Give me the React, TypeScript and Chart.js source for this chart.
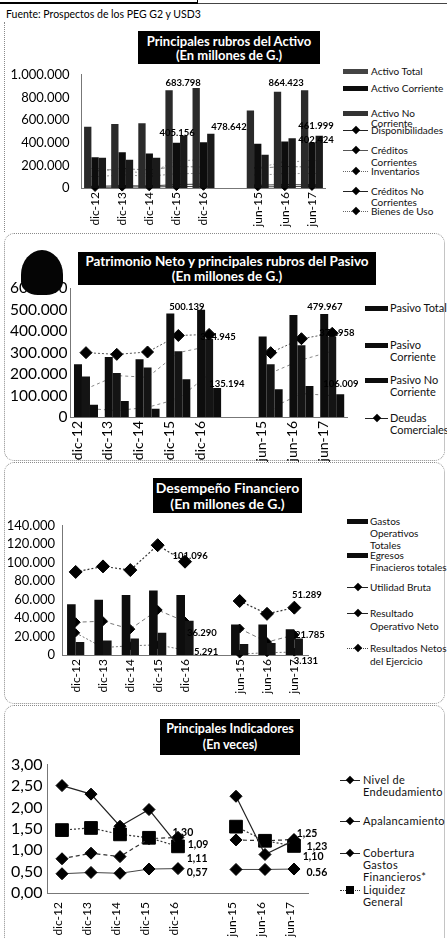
import React, { useEffect, useRef } from 'react';
import { Chart, registerables } from 'chart.js';

Chart.register(...registerables);

const FONT = 'Lato, "Open Sans", sans-serif';

// ---------- shared categories ----------
const categories = ['dic-12', 'dic-13', 'dic-14', 'dic-15', 'dic-16', '', 'jun-15', 'jun-16', 'jun-17'];

// ---------- Chart 1: Principales rubros del Activo ----------
const activoTotal = [540000, 565000, 572000, 864000, 883798, null, 683798, 850000, 864423];
const activoCorriente = [272000, 315000, 305000, 400000, 405156, null, 390000, 410000, 402424];
const activoNoCorriente = [268000, 250000, 267000, 464000, 478642, null, 294000, 440000, 461999];
const disponibilidades = [15000, 20000, 18000, 30000, 35000, null, 25000, 30000, 28000];
const creditosCorrientes = [150000, 170000, 160000, 190000, 185000, null, 175000, 190000, 185000];
const inventarios = [100000, 115000, 105000, 125000, 130000, null, 115000, 125000, 130000];
const creditosNoCorrientes = [5000, 8000, 10000, 12000, 15000, null, 10000, 12000, 14000];
const bienesDeUso = [170000, 150000, 130000, 240000, 250000, null, 180000, 230000, 240000];
const activoLabels = [
  { text: '683.798', at: 3.25, value: 927000 },
  { text: '864.423', at: 7.05, value: 927000 },
  { text: '478.642', at: 4.94, value: 537000 },
  { text: '405.156', at: 3.03, value: 488000 },
  { text: '461.999', at: 8.15, value: 545000 },
  { text: '402.424', at: 8.15, value: 423000 },
];

// ---------- Chart 2: Patrimonio Neto y principales rubros del Pasivo ----------
const pasivoTotal = [246000, 280000, 269000, 483000, 500139, null, 375000, 475000, 479967];
const pasivoCorriente = [189000, 205000, 231000, 307000, 364945, null, 246000, 335000, 373958];
const pasivoNoCorriente = [57000, 75000, 38000, 176000, 135194, null, 129000, 145000, 106009];
const deudasComerciales = [300000, 292000, 303000, 380000, 385000, null, 300000, 365000, 390000];
const pasivoSerieA = [131000, 193000, 185000, 300000, 330000, null, 205000, 266000, 307000];
const pasivoSerieB = [40000, 30000, 45000, 85000, 200000, null, 40000, 109000, 100000];
const pasivoLabels = [
  { text: '500.139', at: 3.28, value: 514000 },
  { text: '364.945', at: 4.29, value: 372000 },
  { text: '135.194', at: 4.58, value: 156000 },
  { text: '479.967', at: 7.76, value: 514000 },
  { text: '373.958', at: 8.15, value: 390000 },
  { text: '106.009', at: 8.28, value: 156000 },
];

// ---------- Chart 3: Desempeño Financiero ----------
const gastosOperativos = [55000, 60000, 65000, 70000, 65000, null, 33000, 33000, 28000];
const egresosFinancieros = [14000, 15700, 18000, 24000, 37000, null, 12000, 13000, 18000];
const utilidadBruta = [90000, 96000, 92000, 119000, 101096, null, 58500, 44600, 51289];
const resultadoOperativo = [35500, 36600, 28000, 48800, 36290, null, 28600, 14000, 21785];
const resultadosNetos = [24000, 8000, 10000, 11000, 5291, null, 1000, 2500, 3131];
const desempenoLabels = [
  { text: '101.096', at: 4.19, value: 107600 },
  { text: '51.289', at: 8.46, value: 64800 },
  { text: '36.290', at: 4.62, value: 24000 },
  { text: '5.291', at: 4.77, value: 3100 },
  { text: '21.785', at: 8.57, value: 21900 },
  { text: '3.131', at: 8.42, value: -6300 },
];

// ---------- Chart 4: Principales Indicadores ----------
const nivelEndeudamiento = [0.45, 0.48, 0.46, 0.56, 0.57, null, 0.55, 0.55, 0.56];
const apalancamiento = [0.8, 0.93, 0.85, 1.27, 1.3, null, 1.24, 1.22, 1.25];
const coberturaGastos = [2.51, 2.31, 1.56, 1.95, 1.11, null, 2.26, 0.9, 1.23];
const liquidezGeneral = [1.47, 1.52, 1.37, 1.29, 1.09, null, 1.55, 1.22, 1.1];
const indicadoresLabels = [
  { text: '1,30', at: 4.17, value: 1.42 },
  { text: '1,09', at: 4.69, value: 1.13 },
  { text: '1,11', at: 4.66, value: 0.81 },
  { text: '0,57', at: 4.66, value: 0.47 },
  { text: '1,25', at: 8.45, value: 1.38 },
  { text: '1,23', at: 8.79, value: 1.08 },
  { text: '1,10', at: 8.66, value: 0.84 },
  { text: '0.56', at: 8.79, value: 0.47 },
];

// ---------- helpers ----------
const fmtMiles = (v: number) => String(Math.round(v)).replace(/\B(?=(\d{3})+(?!\d))/g, '.');
const fmtVeces = (v: number) => v.toFixed(2).replace('.', ',');

const annotPlugin = {
  id: 'annots',
  afterDatasetsDraw(chart: any, _args: any, opts: any) {
    const items = (opts && opts.items) || [];
    const xs = chart.scales.x;
    const ys = chart.scales.y;
    const x0 = xs.getPixelForValue(0);
    const x1 = xs.getPixelForValue(1);
    const ctx = chart.ctx;
    ctx.save();
    ctx.font = opts.font;
    ctx.fillStyle = '#000';
    ctx.textAlign = 'center';
    ctx.textBaseline = 'middle';
    for (const it of items) {
      ctx.fillText(it.text, x0 + (x1 - x0) * it.at, ys.getPixelForValue(it.value));
    }
    ctx.restore();
  },
};

function bar(label: string, data: any[], color: string, cat: number) {
  return {
    type: 'bar', label, data, backgroundColor: color, borderWidth: 0,
    barPercentage: 1, categoryPercentage: cat, order: 1,
  };
}

function line(label: string, data: any[], o: any) {
  return {
    type: 'line', label, data,
    borderColor: o.color, borderWidth: o.w ?? 1, borderDash: o.dash ?? [],
    pointStyle: o.ps ?? 'rectRot', pointRadius: o.r, pointHoverRadius: o.r,
    pointBackgroundColor: o.pc ?? '#000', pointBorderColor: o.pc ?? '#000', pointBorderWidth: 1,
    order: o.order ?? 2, clip: false, fill: false, tension: 0, spanGaps: false,
  };
}

function mkOptions(p: any) {
  const axisBorder = { display: true, color: '#777', dash: [1, 1], width: 1 };
  return {
    responsive: false,
    animation: false,
    devicePixelRatio: 1,
    layout: { padding: p.padding },
    plugins: {
      legend: { display: false },
      tooltip: { enabled: false },
      annots: { items: p.annots, font: p.annotFont },
    },
    scales: {
      x: {
        offset: true,
        grid: { display: false, drawTicks: false },
        border: axisBorder,
        ticks: {
          autoSkip: false, maxRotation: 90, minRotation: 90,
          font: { family: FONT, size: p.xFont }, color: '#000',
          padding: p.xPad, labelOffset: p.xOffset ?? 0,
        },
        afterFit: (s: any) => { s.height = p.xHeight; },
      },
      y: {
        min: 0, max: p.yMax,
        grid: { display: false, drawTicks: false },
        border: axisBorder,
        ticks: {
          autoSkip: false,
          stepSize: p.yStep, callback: (v: any) => p.yFmt(Number(v)),
          font: { family: FONT, size: p.yFont }, color: '#000', padding: p.yPad,
        },
        afterFit: (s: any) => { s.width = p.yWidth; },
      },
    },
  };
}

const build1 = () => ({
  type: 'bar',
  data: {
    labels: categories,
    datasets: [
      bar('Activo Total', activoTotal, '#2a2a2a', 0.81),
      bar('Activo Corriente', activoCorriente, '#0d0d0d', 0.81),
      bar('Activo No Corriente', activoNoCorriente, '#1a1a1a', 0.81),
      line('Disponibilidades', disponibilidades, { color: '#444', r: 3.5 }),
      line('Créditos Corrientes', creditosCorrientes, { color: '#888', dash: [4, 2], r: 3 }),
      line('Inventarios', inventarios, { color: '#999', dash: [2, 2], r: 3 }),
      line('Créditos No Corrientes', creditosNoCorrientes, { color: '#444', r: 4 }),
      line('Bienes de Uso', bienesDeUso, { color: '#999', dash: [2, 2], r: 3 }),
    ],
  },
  options: mkOptions({
    padding: { top: 10, right: 14.5, bottom: 7, left: 0 },
    yMax: 1000000, yStep: 200000, yFmt: fmtMiles, yFont: 13, yPad: 12, yWidth: 81.5,
    xFont: 12, xPad: 4, xHeight: 40, xOffset: 0,
    annots: activoLabels, annotFont: `bold 9.5px ${FONT}`,
  }),
  plugins: [annotPlugin],
});

const build2 = () => ({
  type: 'bar',
  data: {
    labels: categories,
    datasets: [
      bar('Pasivo Total', pasivoTotal, '#0d0d0d', 0.78),
      bar('Pasivo Corriente', pasivoCorriente, '#141414', 0.78),
      bar('Pasivo No Corriente', pasivoNoCorriente, '#0d0d0d', 0.78),
      line('Deudas Comerciales', deudasComerciales, { color: '#555', dash: [2, 2], r: 6 }),
      line('', pasivoSerieA, { color: '#888', dash: [3, 3], r: 0 }),
      line('', pasivoSerieB, { color: '#888', dash: [3, 3], r: 3 }),
    ],
  },
  options: mkOptions({
    padding: { top: 10, right: 14.4, bottom: 2, left: 0 },
    yMax: 600000, yStep: 100000, yFmt: fmtMiles, yFont: 15.5, yPad: 3, yWidth: 70.6,
    xFont: 14, xPad: 4, xHeight: 45, xOffset: -9,
    annots: pasivoLabels, annotFont: `bold 9.5px ${FONT}`,
  }),
  plugins: [annotPlugin],
});

const build3 = () => ({
  type: 'bar',
  data: {
    labels: categories,
    datasets: [
      bar('Gastos Operativos Totales', gastosOperativos, '#0d0d0d', 0.63),
      bar('Egresos Finacieros totales', egresosFinancieros, '#141414', 0.63),
      line('Utilidad Bruta', utilidadBruta, { color: '#333', dash: [2, 2], w: 1.2, r: 6.5 }),
      line('Resultado Operativo Neto', resultadoOperativo, { color: '#777', dash: [4, 3], r: 4.5 }),
      line('Resultados Netos del Ejercicio', resultadosNetos, { color: '#777', dash: [2, 2], r: 4 }),
    ],
  },
  options: mkOptions({
    padding: { top: 10, right: 27, bottom: 5, left: 0 },
    yMax: 140000, yStep: 20000, yFmt: fmtMiles, yFont: 13, yPad: 7, yWidth: 62,
    xFont: 12, xPad: 4, xHeight: 40, xOffset: 0,
    annots: desempenoLabels, annotFont: `bold 9.5px ${FONT}`,
  }),
  plugins: [annotPlugin],
});

const build4 = () => ({
  type: 'line',
  data: {
    labels: categories,
    datasets: [
      line('Nivel de Endeudamiento', nivelEndeudamiento, { color: '#444', r: 6, order: 0 }),
      line('Apalancamiento', apalancamiento, { color: '#333', dash: [4, 3], w: 1.2, r: 6, order: 0 }),
      line('Cobertura Gastos Financieros*', coberturaGastos, { color: '#222', w: 1.2, r: 6, order: 0 }),
      line('Liquidez General', liquidezGeneral, { color: '#333', dash: [2, 2], w: 1.2, ps: 'rect', r: 9, order: 0 }),
    ],
  },
  options: mkOptions({
    padding: { top: 10, right: 26.5, bottom: 0, left: 0 },
    yMax: 3, yStep: 0.5, yFmt: fmtVeces, yFont: 16, yPad: 5, yWidth: 47.5,
    xFont: 12, xPad: 9, xHeight: 45, xOffset: -4,
    annots: indicadoresLabels, annotFont: `bold 10.5px ${FONT}`,
  }),
  plugins: [annotPlugin],
});

// ---------- legends ----------
const legend1 = [
  { lines: ['Activo Total'], y: 71, sw: { kind: 'box', color: '#444' } },
  { lines: ['Activo Corriente'], y: 88, sw: { kind: 'box', color: '#0d0d0d' } },
  { lines: ['Activo No', 'Corriente'], y: 113, lh: 10, sw: { kind: 'box', color: '#333' } },
  { lines: ['Disponibilidades'], y: 130, sw: { kind: 'line', color: '#222', dash: 'solid', marker: 'diamond' } },
  { lines: ['Créditos', 'Corrientes'], y: 150, lh: 12, sw: { kind: 'line', color: '#555', dash: 'solid', marker: 'diamond' } },
  { lines: ['Inventarios'], y: 171, sw: { kind: 'line', color: '#666', dash: 'dotted', marker: 'diamond' } },
  { lines: ['Créditos No', 'Corrientes'], y: 191, lh: 11, sw: { kind: 'line', color: '#222', dash: 'solid', marker: 'diamond' } },
  { lines: ['Bienes de Uso'], y: 211, sw: { kind: 'line', color: '#666', dash: 'dotted', marker: 'diamond' } },
];
const legend2 = [
  { lines: ['Pasivo Total'], y: 308, sw: { kind: 'box', color: '#0d0d0d' } },
  { lines: ['Pasivo', 'Corriente'], y: 345, sw: { kind: 'box', color: '#0d0d0d' } },
  { lines: ['Pasivo No', 'Corriente'], y: 380, sw: { kind: 'box', color: '#0d0d0d' } },
  { lines: ['Deudas', 'Comerciales'], y: 418, sw: { kind: 'line', color: '#222', dash: 'solid', marker: 'diamond' } },
];
const legend3 = [
  { lines: ['Gastos', 'Operativos', 'Totales'], y: 521, sw: { kind: 'box', color: '#0d0d0d' } },
  { lines: ['Egresos', 'Finacieros totales'], y: 555, sw: { kind: 'box', color: '#0d0d0d' } },
  { lines: ['Utilidad Bruta'], y: 587, sw: { kind: 'line', color: '#222', dash: 'solid', marker: 'diamond' } },
  { lines: ['Resultado', 'Operativo Neto'], y: 613, lh: 13, sw: { kind: 'line', color: '#222', dash: 'solid', marker: 'diamond' } },
  { lines: ['Resultados Netos', 'del Ejercicio'], y: 648, lh: 13, sw: { kind: 'line', color: '#444', dash: 'dotted', marker: 'diamond' } },
];
const legend4 = [
  { lines: ['Nivel de', 'Endeudamiento'], y: 780, sw: { kind: 'line', color: '#222', dash: 'solid', marker: 'diamond' } },
  { lines: ['Apalancamiento'], y: 821, sw: { kind: 'line', color: '#222', dash: 'solid', marker: 'diamond' } },
  { lines: ['Cobertura', 'Gastos', 'Financieros*'], y: 853, sw: { kind: 'line', color: '#222', dash: 'solid', marker: 'diamond' } },
  { lines: ['Liquidez', 'General'], y: 890, sw: { kind: 'line', color: '#333', dash: 'dotted', marker: 'square' } },
];

function Swatch({ x, y, w, sw }: any) {
  if (sw.kind === 'box') {
    return <div style={{ position: 'absolute', left: x, top: y - 2.5, width: w, height: 5, background: sw.color }} />;
  }
  const m = sw.marker === 'square' ? 8 : 6;
  return (
    <>
      <div style={{ position: 'absolute', left: x, top: y - 0.5, width: w, height: 0, borderTop: `1px ${sw.dash} ${sw.color}` }} />
      <div
        style={{
          position: 'absolute', left: x + w / 2 - m / 2, top: y - m / 2, width: m, height: m,
          background: '#000', transform: sw.marker === 'square' ? 'none' : 'rotate(45deg)',
        }}
      />
    </>
  );
}

function Legend({ items, swX, swW, textX, fontSize, lineH, ls }: any) {
  return (
    <>
      {items.map((it: any, i: number) => {
        const lh = it.lh ?? lineH;
        return (
          <React.Fragment key={i}>
            <Swatch x={swX} y={it.y} w={swW} sw={it.sw} />
            <div
              style={{
                position: 'absolute', left: textX, top: it.y - lh / 2, fontSize, lineHeight: `${lh}px`,
                whiteSpace: 'nowrap', color: '#111', letterSpacing: ls ?? 0,
              }}
            >
              {it.lines.map((l: string, j: number) => <div key={j}>{l}</div>)}
            </div>
          </React.Fragment>
        );
      })}
    </>
  );
}

function TitleBox({ left, top, width, height, size, lh, lines }: any) {
  return (
    <div
      style={{
        position: 'absolute', left, top, width, height, background: '#000', color: '#fff',
        fontWeight: 'bold', fontSize: size, lineHeight: `${lh}px`, textAlign: 'center',
        display: 'flex', flexDirection: 'column', justifyContent: 'center', whiteSpace: 'nowrap', zIndex: 2,
      }}
    >
      {lines.map((l: string, i: number) => <div key={i}>{l}</div>)}
    </div>
  );
}

function ChartCanvas({ left, top, width, height, build }: any) {
  const ref = useRef<HTMLCanvasElement>(null);
  useEffect(() => {
    const chart = new Chart(ref.current as HTMLCanvasElement, build());
    return () => chart.destroy();
  }, []);
  return <canvas ref={ref} width={width} height={height} style={{ position: 'absolute', left, top, width, height }} />;
}

const boxStyle = (top: number, height: number): any => ({
  position: 'absolute', left: 4, top, width: 441, height,
  border: '1px dotted #8a8a8a', borderRadius: 10, boxSizing: 'border-box',
});

export default function App() {
  return (
    <div
      style={{
        position: 'absolute', left: 0, top: 0, width: 447, height: 938, overflow: 'hidden',
        background: '#fff', fontFamily: FONT, color: '#000',
      }}
    >
      {/* top rule from the page */}
      <div style={{ position: 'absolute', left: 0, top: 2, width: 198, height: 2, background: '#000' }} />
      <div style={{ position: 'absolute', left: 197, top: 0, width: 1, height: 4, background: '#000' }} />
      <div style={{ position: 'absolute', left: 198, top: 3, width: 249, height: 1, background: '#444' }} />
      <div style={{ position: 'absolute', left: 6, top: 8, fontSize: 10.5, whiteSpace: 'nowrap' }}>
        Fuente: Prospectos de los PEG G2 y USD3
      </div>

      {/* chart frames */}
      <div style={{ position: 'absolute', left: 4, top: 22, width: 0, height: 210, borderLeft: '1px dotted #8a8a8a' }} />
      <div style={boxStyle(233, 228)} />
      <div style={boxStyle(462, 242)} />
      <div style={boxStyle(705, 260)} />

      {/* Chart 1 */}
      <ChartCanvas left={0} top={55} width={340} height={180} build={build1} />
      <TitleBox left={138} top={31} width={182} height={33} size={13} lh={14}
        lines={['Principales rubros del Activo', '(En millones de G.)']} />
      <Legend items={legend1} swX={343} swW={25} textX={371} fontSize={10} lineH={11} />

      {/* Chart 2 */}
      <ChartCanvas left={0} top={276} width={362} height={188} build={build2} />
      <TitleBox left={78} top={252} width={298} height={33} size={13.5} lh={15}
        lines={['Patrimonio Neto y principales rubros del Pasivo', '(En millones de G.)']} />
      <div style={{
        position: 'absolute', left: 21, top: 250, width: 42, height: 45, background: '#050505',
        borderRadius: '50% 50% 40% 40% / 55% 55% 30% 30%', zIndex: 3,
      }} />
      <Legend items={legend2} swX={365} swW={23} textX={390} fontSize={11} lineH={11.5} />

      {/* Chart 3 */}
      <ChartCanvas left={0} top={511} width={335} height={189} build={build3} />
      <TitleBox left={153} top={478} width={149} height={35} size={14} lh={16}
        lines={['Desempeño Financiero', '(En millones de G.)']} />
      <Legend items={legend3} swX={347} swW={21} textX={370} fontSize={10} lineH={12} />

      {/* Chart 4 */}
      <ChartCanvas left={0} top={750} width={335} height={188} build={build4} />
      <TitleBox left={160} top={719} width={140} height={36} size={12.5} lh={16}
        lines={['Principales Indicadores', '(En veces)']} />
      <Legend items={legend4} swX={340} swW={20} textX={363} fontSize={11} lineH={12} ls={0.3} />
    </div>
  );
}
